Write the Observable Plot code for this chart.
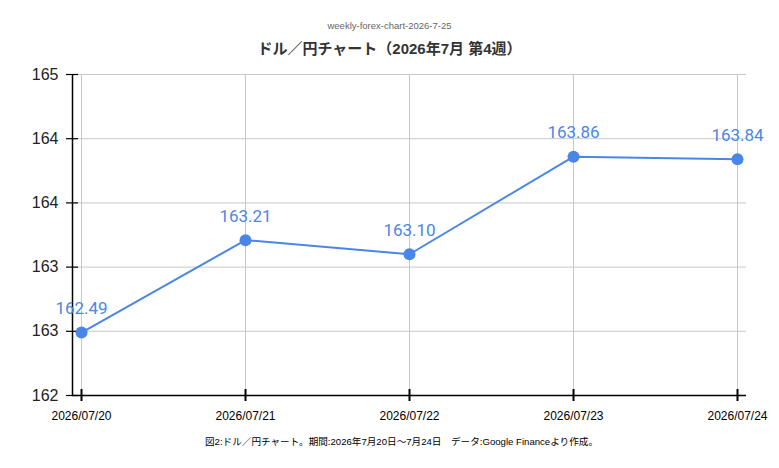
<!DOCTYPE html>
<html><head><meta charset="utf-8">
<script src="https://cdn.jsdelivr.net/npm/d3@7"></script>
<script src="https://cdn.jsdelivr.net/npm/@observablehq/plot@0.6"></script>
<style>
html,body{margin:0;padding:0;background:#fff;}
body{width:779px;height:468px;overflow:hidden;font-family:"Liberation Sans","Noto Sans CJK JP",sans-serif;}
#sub{position:absolute;top:20px;left:0;width:779px;text-align:center;font-size:9.5px;color:#666;}
#title{position:absolute;top:37px;left:0;width:779px;text-align:center;font-size:15px;font-weight:bold;color:#333;}
#chart{position:absolute;top:60px;left:0;}
#cap{position:absolute;top:434px;left:12px;width:779px;text-align:center;font-size:9.6px;color:#000;}
</style></head>
<body>
<div id="sub">weekly-forex-chart-2026-7-25</div>
<div id="title">ドル／円チャート（2026年7月 第4週）</div>
<div id="chart"></div>
<div id="cap">図2:ドル／円チャート。期間:2026年7月20日～7月24日　データ:Google Financeより作成。</div>
<script>
const dates = ["2026/07/20","2026/07/21","2026/07/22","2026/07/23","2026/07/24"];
const rates = [162.49, 163.21, 163.10, 163.86, 163.84];
const yTicks = [162, 162.5, 163, 163.5, 164, 164.5];
const data = dates.map((d,i)=>({date:d, rate:rates[i]}));
const blue = "#4a86e8";
const plot = Plot.plot({
  width: 779, height: 365,
  marginLeft: 72, marginRight: 33, marginTop: 14, marginBottom: 30,
  style: {fontFamily: "'Liberation Sans', Arial, sans-serif", background: "#fff"},
  x: {type: "point", domain: dates, padding: 0, insetLeft: 9, insetRight: 9, label: null},
  y: {domain: [162, 164.5], label: null},
  marks: [
    Plot.ruleY(yTicks, {stroke: "#c8c8c8", strokeWidth: 1}),
    Plot.ruleX(dates, {x: d => d, stroke: "#c8c8c8", strokeWidth: 1}),
    Plot.axisY({ticks: yTicks, tickSize: 12, dx: 6, text: null, stroke: "#000", strokeWidth: 1.2, strokeOpacity: 1}),
    Plot.axisY({ticks: yTicks, tickSize: 0, tickPadding: 14, tickFormat: d => d.toFixed(0), fontSize: 16, fill: "#222"}),
    Plot.axisX({ticks: dates, tickSize: 12, dy: -6, text: null, stroke: "#000", strokeWidth: 2, strokeOpacity: 1}),
    Plot.axisX({ticks: dates, tickSize: 0, tickPadding: 16, fontSize: 12, fill: "#000"}),
    Plot.ruleX([0], {x: () => dates[0], dx: -9, stroke: "#000", strokeWidth: 1.5}),
    Plot.ruleY([162], {stroke: "#000", strokeWidth: 1.5}),
    Plot.line(data, {x: "date", y: "rate", stroke: blue, strokeWidth: 2}),
    Plot.dot(data, {x: "date", y: "rate", r: 6, fill: blue}),
    Plot.text(data, {x: "date", y: "rate", text: d => d.rate.toFixed(2), dy: -24, fill: blue, fontSize: 17, fontFamily: "Roboto, sans-serif"})
  ]
});
document.getElementById("chart").appendChild(plot);
</script>
</body></html>
